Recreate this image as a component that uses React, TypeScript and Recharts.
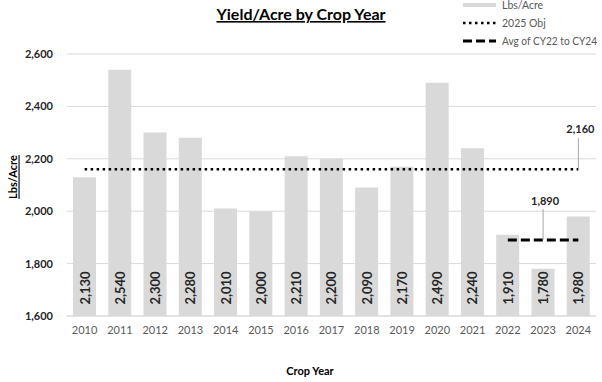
import React from 'react';
import { ComposedChart, Bar, Line, XAxis, YAxis, CartesianGrid, LabelList, Customized } from 'recharts';

const years = ['2010','2011','2012','2013','2014','2015','2016','2017','2018','2019','2020','2021','2022','2023','2024'];
const yieldValues = [2130, 2540, 2300, 2280, 2010, 2000, 2210, 2200, 2090, 2170, 2490, 2240, 1910, 1780, 1980];
const objective = 2160;
const avgYears = ['2022', '2023', '2024'];
const avgValue = 1890;
const yTicks = [1600, 1800, 2000, 2200, 2400, 2600];

const data = years.map((y, i) => ({
  year: y,
  lbs: yieldValues[i],
  obj: objective,
  avg: avgYears.includes(y) ? avgValue : null,
}));

const FONT = 'Lato, "Liberation Sans", sans-serif';
const fmt = (v: number) => v.toLocaleString('en-US');

const BarLabel = (props: any) => {
  const { x, y, width, height, value } = props;
  const cx = x + width / 2;
  const cy = y + height - 28;
  return (
    <text x={cx} y={cy} transform={`rotate(-90 ${cx} ${cy})`} textAnchor="middle" dominantBaseline="central"
      fontFamily={FONT} fontWeight="bold" fontSize={13} fill="#262626">{fmt(value)}</text>
  );
};

const ObjLabel = (props: any) => {
  const { x, y, index, value } = props;
  if (index !== years.length - 1) return null;
  return (
    <g>
      <line x1={x} y1={y} x2={x} y2={y - 31} stroke="#a6a6a6" strokeWidth={1} />
      <text x={x + 2} y={y - 41} textAnchor="middle" dominantBaseline="central" fontFamily={FONT} fontWeight="bold" fontSize={11} fill="#262626">{fmt(value)}</text>
    </g>
  );
};

const AvgLabel = (props: any) => {
  const { x, y, index, value } = props;
  if (years[index] !== '2023') return null;
  return (
    <g>
      <line x1={x} y1={y} x2={x} y2={y - 31} stroke="#a6a6a6" strokeWidth={1} />
      <text x={x + 2} y={y - 40} textAnchor="middle" dominantBaseline="central" fontFamily={FONT} fontWeight="bold" fontSize={11} fill="#262626">{fmt(value)}</text>
    </g>
  );
};

const Decorations = () => (
  <g fontFamily={FONT}>
    <text x={301} y={20} textAnchor="middle" fontWeight="bold" fontSize={16} fill="#000" textDecoration="underline">Yield/Acre by Crop Year</text>
    <text x={12} y={177} transform="rotate(-90 12 177)" textAnchor="middle" dominantBaseline="central" fontWeight="bold" fontSize={11} fill="#000" textDecoration="underline">Lbs/Acre</text>
    <text x={310} y={370} textAnchor="middle" dominantBaseline="central" fontWeight="bold" fontSize={11} fill="#000">Crop Year</text>
    <rect x={463} y={3} width={33} height={4} fill="#d9d9d9" />
    <text x={502} y={5} dominantBaseline="central" fontSize={10.5} fill="#595959">Lbs/Acre</text>
    <line x1={463} y1={23} x2={496} y2={23} stroke="#000" strokeWidth={2.5} strokeDasharray="2.5 3.5" />
    <text x={502} y={23} dominantBaseline="central" fontSize={10.5} fill="#595959">2025 Obj</text>
    <line x1={463} y1={41} x2={496} y2={41} stroke="#000" strokeWidth={3} strokeDasharray="9 4" />
    <text x={502} y={41} dominantBaseline="central" fontSize={10.5} fill="#595959" textLength={95} lengthAdjust="spacingAndGlyphs">Avg of CY22 to CY24</text>
  </g>
);

export default function App() {
  return (
    <div style={{ position: 'absolute', left: 0, top: 0, width: 602, height: 382, background: '#fff' }}>
      <ComposedChart width={602} height={382} data={data} margin={{ top: 54, right: 6, left: 0, bottom: 36 }} barSize={23}>
        <CartesianGrid vertical={false} stroke="#d9d9d9" />
        <XAxis dataKey="year" height={30} tickLine={false} axisLine={{ stroke: '#d9d9d9' }} tickMargin={4}
          tick={{ fontFamily: FONT, fontSize: 11, fill: '#595959' }} />
        <YAxis width={67} domain={[1600, 2600]} ticks={yTicks} tickLine={false} axisLine={false} tickMargin={8}
          tickFormatter={fmt} tick={{ fontFamily: FONT, fontSize: 11, fill: '#262626', fontWeight: 'bold' }} />
        <Bar dataKey="lbs" fill="#d9d9d9" isAnimationActive={false}>
          <LabelList dataKey="lbs" content={BarLabel} />
        </Bar>
        <Line dataKey="obj" stroke="#000" strokeWidth={2.5} strokeDasharray="2.5 3.5" dot={false} activeDot={false} isAnimationActive={false}>
          <LabelList dataKey="obj" content={ObjLabel} />
        </Line>
        <Line dataKey="avg" stroke="#000" strokeWidth={3} strokeDasharray="9 4" dot={false} activeDot={false} isAnimationActive={false} connectNulls={false}>
          <LabelList dataKey="avg" content={AvgLabel} />
        </Line>
        <Customized component={Decorations} />
      </ComposedChart>
    </div>
  );
}
